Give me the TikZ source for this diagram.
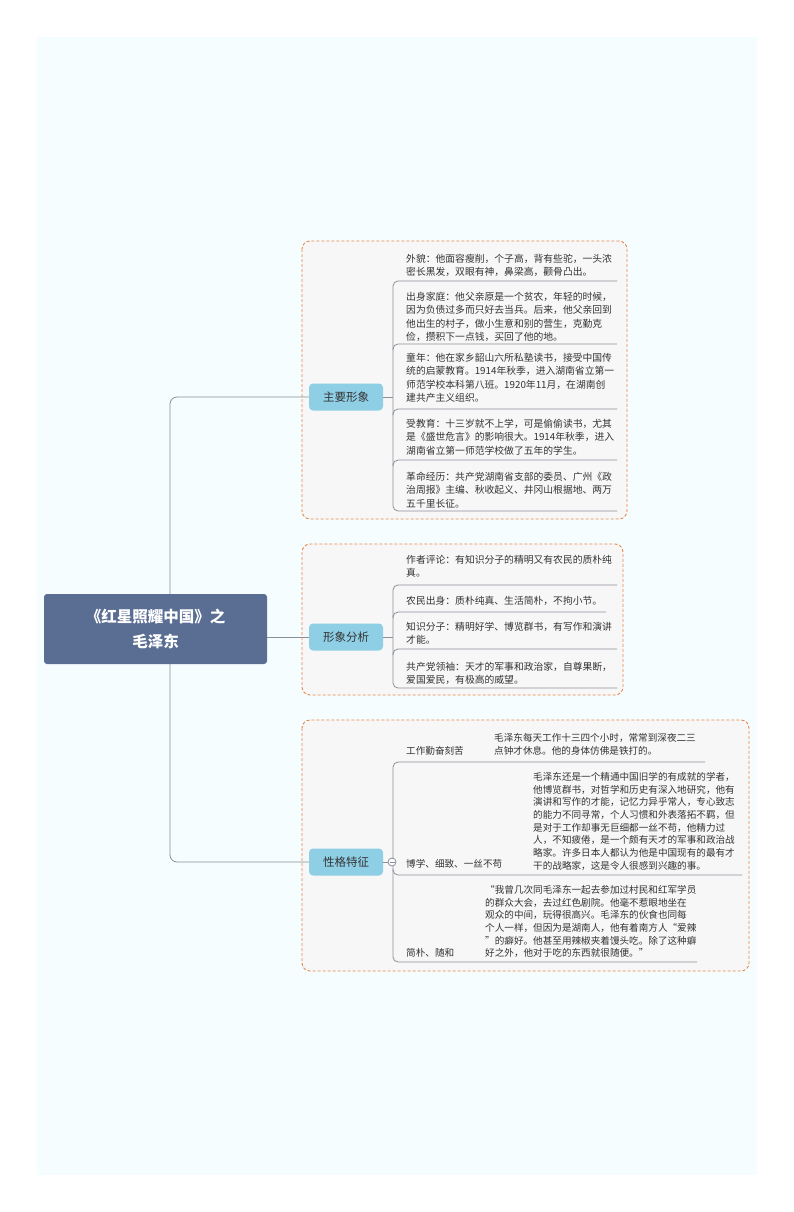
\documentclass[tikz,border=0pt]{standalone}
\usepackage{fontspec}
\setmainfont{Noto Sans CJK SC}
\definecolor{brc}{HTML}{8FCFE6}
\definecolor{rootc}{HTML}{5A6D93}
\definecolor{linec}{HTML}{8A9099}
\definecolor{grpc}{HTML}{E8874A}
\begin{document}
\begin{tikzpicture}[x=1pt,y=-1pt,
  conn/.style={draw=linec, line width=0.8pt},
  grp/.style={draw=grpc, dash pattern=on 3pt off 2pt, line width=0.9pt, fill=black!3, rounded corners=8},
  br/.style={fill=brc, rounded corners=4, minimum width=74, minimum height=27, font=\fontsize{11.5}{14}\selectfont, text=black!80},
  lf/.style={anchor=north west, inner sep=0, align=left, font=\fontsize{9.8}{13.3}\selectfont, text=black!80},
  lf3/.style={anchor=north west, inner sep=0, align=left, font=\fontsize{9.6}{12.7}\selectfont, text=black!80}]
\useasboundingbox (0,0) rectangle (794,1212);
\fill[white] (0,0) rectangle (794,1212);
\fill[blue!20!cyan!4] (37,37) rectangle (757,1175);
% groups
\draw[grp] (302,241) rectangle (627,519);
\draw[grp] (302,544) rectangle (623,695);
\draw[grp] (302,720) rectangle (749,971);
% branches
\node[br] (b1) at (346,397) {主要形象};
\node[br] (b2) at (346,637) {形象分析};
\node[br] (b3) at (346,862) {性格特征};
% trunk
\draw[conn, rounded corners=7] (b1.west) -- (170,397) -- (170,862) -- (b3.west);
\node[fill=rootc, rounded corners=3, minimum width=223, minimum height=70, text=white, align=center, font=\bfseries\fontsize{15.5}{25}\selectfont] (root) at (155.5,629) {《红星照耀中国》之\\毛泽东};
\draw[conn] (root.east |- b2.west) -- (b2.west);
% box1 leaves
\draw[conn] (b1.east) -- (393,397);
\draw[conn, rounded corners=5] (617,281) -- (393,281) -- (393,511) -- (617,511);
\draw[conn, rounded corners=5] (393,350) -- (393,344) -- (617,344);
\draw[conn, rounded corners=5] (393,415) -- (393,409) -- (617,409);
\draw[conn, rounded corners=5] (393,466) -- (393,460) -- (617,460);
\node[lf] (l11) at (406,254) {外貌：他面容瘦削，个子高，背有些驼，一头浓\\密长黑发，双眼有神，鼻梁高，颧骨凸出。};
\node[lf] (l12) at (406,292) {出身家庭：他父亲原是一个贫农，年轻的时候，\\因为负债过多而只好去当兵。后来，他父亲回到\\他出生的村子，做小生意和别的营生，克勤克\\俭，攒积下一点钱，买回了他的地。};
\node[lf] (l13) at (406,353) {童年：他在家乡韶山六所私塾读书，接受中国传\\统的启蒙教育。1914年秋季，进入湖南省立第一\\师范学校本科第八班。1920年11月，在湖南创\\建共产主义组织。};
\node[lf] (l14) at (406,419) {受教育：十三岁就不上学，可是偷偷读书，尤其\\是《盛世危言》的影响很大。1914年秋季，进入\\湖南省立第一师范学校做了五年的学生。};
\node[lf] (l15) at (406,472) {革命经历：共产党湖南省支部的委员、广州《政\\治周报》主编、秋收起义、井冈山根据地、两万\\五千里长征。};
% box2 leaves
\draw[conn] (b2.east) -- (393,637);
\draw[conn, rounded corners=5] (617,585) -- (393,585) -- (393,688) -- (617,688);
\draw[conn, rounded corners=5] (393,618) -- (393,612) -- (606,612);
\draw[conn, rounded corners=5] (393,655) -- (393,649) -- (617,649);
\node[lf] (l21) at (406,555) {作者评论：有知识分子的精明又有农民的质朴纯\\真。};
\node[lf] (l22) at (406,596) {农民出身：质朴纯真、生活简朴，不拘小节。};
\node[lf] (l23) at (406,622) {知识分子：精明好学、博览群书，有写作和演讲\\才能。};
\node[lf] (l24) at (406,662) {共产党领袖：天才的军事和政治家，自尊果断，\\爱国爱民，有极高的威望。};
% box3 leaves
\draw[conn] (b3.east) -- (388,862);
\draw[conn, fill=white] (392,862) circle (4);
\draw[conn] (389.5,862) -- (394.5,862);
\draw[conn, rounded corners=5] (705,762) -- (393,762) -- (393,858);
\draw[conn, rounded corners=5] (393,866) -- (393,962) -- (697,962);
\draw[conn, rounded corners=5] (393,869) -- (393,875) -- (742,875);
\node[lf3, anchor=base west] (k1) at (406,754) {工作勤奋刻苦};
\node[lf3, anchor=base west] (k2) at (406,867) {博学、细致、一丝不苟};
\node[lf3, anchor=base west] (k3) at (406,956) {简朴、随和};
\node[lf3] (d1) at (494,733) {毛泽东每天工作十三四个小时，常常到深夜二三\\点钟才休息。他的身体仿佛是铁打的。};
\node[lf3] (d2) at (533,772) {毛泽东还是一个精通中国旧学的有成就的学者，\\他博览群书，对哲学和历史有深入地研究，他有\\演讲和写作的才能，记忆力异乎常人，专心致志\\的能力不同寻常，个人习惯和外表落拓不羁，但\\是对于工作却事无巨细都一丝不苟，他精力过\\人，不知疲倦，是一个颇有天才的军事和政治战\\略家。许多日本人都认为他是中国现有的最有才\\干的战略家，这是令人很感到兴趣的事。};
\node[lf3] (d3) at (485,885) {“我曾几次同毛泽东一起去参加过村民和红军学员\\的群众大会，去过红色剧院。他毫不惹眼地坐在\\观众的中间，玩得很高兴。毛泽东的伙食也同每\\个人一样，但因为是湖南人，他有着南方人“爱辣\\”的癖好。他甚至用辣椒夹着馒头吃。除了这种癖\\好之外，他对于吃的东西就很随便。”};
\end{tikzpicture}
\end{document}
